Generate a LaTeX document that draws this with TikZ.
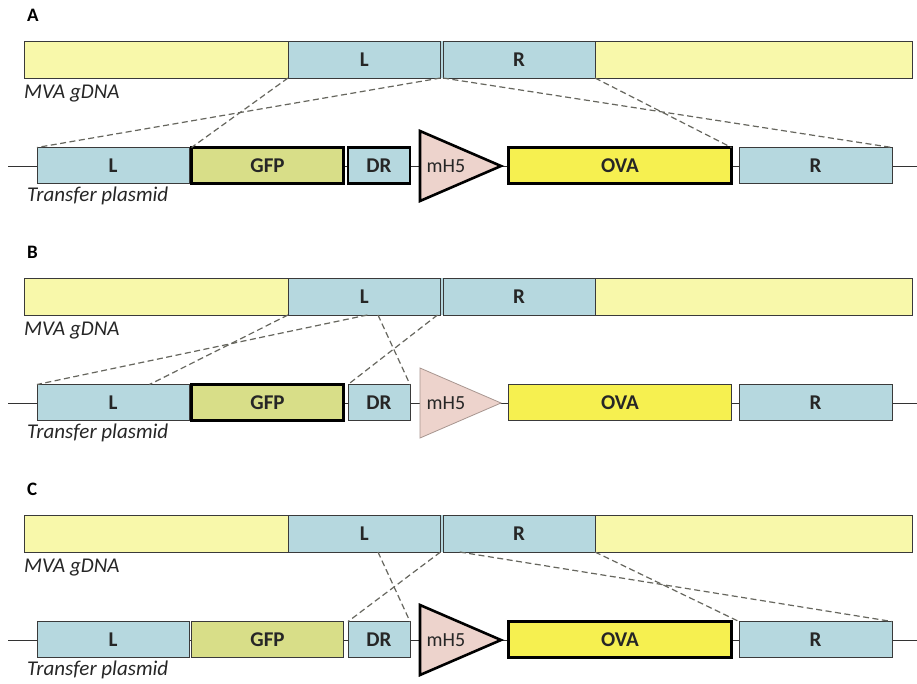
\documentclass[tikz,border=0pt]{standalone}
\usepackage{fontspec}
\setmainfont{Carlito}
\usetikzlibrary{calc}
\definecolor{mvaY}{HTML}{F8F8AA}
\definecolor{armB}{HTML}{B6D8DF}
\definecolor{gfpC}{HTML}{D8DE88}
\definecolor{ovaC}{HTML}{F6F050}
\definecolor{promC}{HTML}{EDD3CC}
\definecolor{edgeC}{HTML}{3A3A3A}
\definecolor{dashC}{HTML}{66665E}
\definecolor{promE}{HTML}{A89690}
\tikzset{
  box/.style={draw=edgeC, line width=0.8pt, anchor=north west, inner sep=0pt, outer sep=0pt,
     font=\fontsize{21}{23}\selectfont\bfseries, text=black!85},
  thin/.style={draw=edgeC, line width=0.8pt},
  thickb/.style={draw=black, line width=2.6pt},
  promthin/.style={draw=promE, line width=0.8pt},
  promthick/.style={draw=black, line width=2.6pt, line join=miter},
  dashln/.style={draw=dashC, line width=1.2pt, dash pattern=on 6pt off 3.5pt},
  backbone/.style={draw=black!80, line width=1pt},
  tag/.style={anchor=base west, inner sep=0pt, font=\fontsize{21}{23}\selectfont\itshape, text=black!85},
  letter/.style={anchor=base west, inner sep=0pt, font=\fontsize{19}{21}\selectfont\bfseries}
}
% #1 y offset, #2 suffix/letter, #3 gfp, #4 dr, #5 promoter, #6 ova
\newcommand\drawpanel[6]{%
\begin{scope}[yshift=-#1pt]
  \node[letter] (let#2) at (27,21) {#2};
  % MVA genomic DNA
  \fill[armB] (439,41) rectangle (445,78);
  \node[box, fill=mvaY, minimum width=264pt, minimum height=37pt] (mvaA#2) at (24,41) {};
  \node[box, fill=armB, minimum width=152.5pt, minimum height=37pt] (mvaL#2) at (288,41) {L};
  \node[box, fill=armB, minimum width=152pt, minimum height=37pt] (mvaR#2) at (443,41) {R};
  \node[box, fill=mvaY, minimum width=317pt, minimum height=37pt] (mvaB#2) at (595,41) {};
  \node[tag] (mvalab#2) at (24,98) {MVA gDNA};
  % transfer plasmid
  \coordinate (bs#2) at (8,166);
  \coordinate (be#2) at (917,166);
  \draw[backbone] (bs#2) -- (be#2);
  \node[box, fill=armB, minimum width=152pt, minimum height=36pt] (pL#2) at (37,147.5) {L};
  \node[box, fill=gfpC, #3, minimum width=152pt, minimum height=36pt] (gfp#2) at (191.5,147.5) {GFP};
  \node[box, fill=armB, #4, minimum width=62pt, minimum height=36pt] (dr#2) at (348,147.5) {DR};
  \node[box, fill=ovaC, #6, minimum width=223pt, minimum height=36pt] (ova#2) at (508.5,147.5) {OVA};
  \node[box, fill=armB, minimum width=153pt, minimum height=36pt] (pR#2) at (739,147.5) {R};
  \coordinate (tt#2) at (420,131);
  \coordinate (tb#2) at (420,201);
  \coordinate (tp#2) at (501,166);
  \filldraw[fill=promC, #5] (tt#2) -- (tp#2) -- (tb#2) -- cycle;
  \node[inner sep=0pt, font=\fontsize{20}{22}\selectfont, text=black!85] (mh#2) at (446,166) {mH5};
  \node[tag] (tplab#2) at (27,201) {Transfer plasmid};
\end{scope}}

\begin{document}
\begin{tikzpicture}[x=1pt, y=-1pt]
\useasboundingbox[fill=white] (0,0) rectangle (917,683);

\drawpanel{0}{A}{thickb}{thickb}{promthick}{thickb}
\drawpanel{237}{B}{thickb}{thin}{promthin}{thin}
\drawpanel{474}{C}{thin}{thin}{promthick}{thickb}

% Panel A crossovers
\draw[dashln] (mvaLA.south west) -- (gfpA.north west);
\draw[dashln] (mvaLA.south east) -- (pLA.north west);
\draw[dashln] (mvaRA.south west) -- (pRA.north east);
\draw[dashln] (mvaRA.south east) -- (ovaA.north east);

% Panel B crossovers
\coordinate (b1) at ($(pLB.north west)!0.74!(pLB.north east)$);
\coordinate (b2) at ($(mvaLB.south west)!0.52!(mvaLB.south east)$);
\coordinate (b3) at ($(mvaLB.south west)!0.59!(mvaLB.south east)$);
\coordinate (b4) at ($(mvaLB.south west)!0.98!(mvaLB.south east)$);
\draw[dashln] (mvaLB.south west) -- (b1);
\draw[dashln] (b2) -- (pLB.north west);
\draw[dashln] (b3) -- (drB.north east);
\draw[dashln] (b4) -- (drB.north west);

% Panel C crossovers
\coordinate (c1) at ($(mvaLC.south west)!0.59!(mvaLC.south east)$);
\coordinate (c2) at ($(mvaRC.south west)!0.11!(mvaRC.south east)$);
\draw[dashln] (c1) -- (drC.north east);
\draw[dashln] (mvaLC.south east) -- (drC.north west);
\draw[dashln] (c2) -- (pRC.north east);
\draw[dashln] (mvaRC.south east) -- (pRC.north west);
\end{tikzpicture}
\end{document}
